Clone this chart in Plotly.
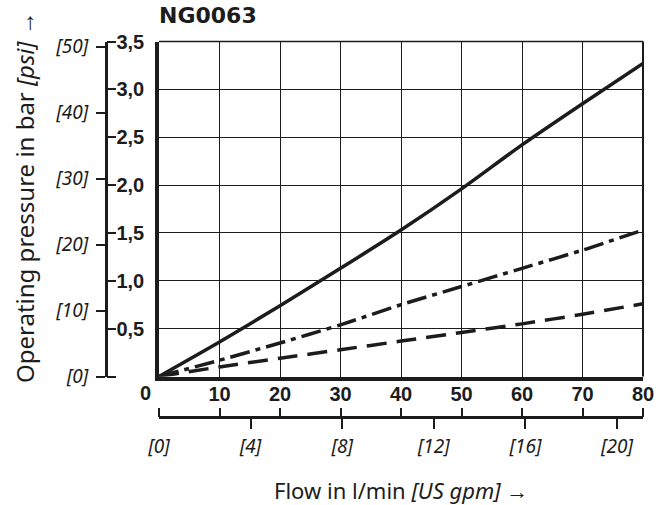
import plotly.graph_objects as go

# ---------------- data ----------------
flow_lpm = [0, 10, 20, 30, 40, 50, 60, 70, 80]
p_solid = [0, 0.36, 0.74, 1.13, 1.53, 1.96, 2.42, 2.85, 3.27]
p_dashdot = [0, 0.17, 0.35, 0.54, 0.75, 0.94, 1.13, 1.32, 1.53]
p_dashed = [0, 0.10, 0.19, 0.28, 0.37, 0.46, 0.55, 0.65, 0.76]

bar_ticks = [0.5, 1.0, 1.5, 2.0, 2.5, 3.0, 3.5]
bar_labels = ["0,5", "1,0", "1,5", "2,0", "2,5", "3,0", "3,5"]
bar_all_ticks = [0, 0.5, 1.0, 1.5, 2.0, 2.5, 3.0, 3.5]
psi_ticks = [0, 10, 20, 30, 40, 50]
psi_labels = ["[0]", "[10]", "[20]", "[30]", "[40]", "[50]"]
flow_ticks = [10, 20, 30, 40, 50, 60, 70, 80]
flow_labels = ["10", "20", "30", "40", "50", "60", "70", "80"]
flow_all_ticks = [0, 10, 20, 30, 40, 50, 60, 70, 80]
gpm_ticks = [4, 8, 12, 16, 20]
gpm_all = [0, 4, 8, 12, 16, 20]
gpm_labels = ["[0]", "[4]", "[8]", "[12]", "[16]", "[20]"]

BAR_MAX = 3.5
FLOW_MAX = 80
PSI_PER_BAR = 14.5038
LPM_PER_GPM = 3.78541

title_text = "NG0063"
x_title = "Flow in l/min <i>[US gpm]</i> →"
y_title = "Operating pressure in bar <i>[psi]</i> →"

# ---------------- layout helpers ----------------
W, H = 664, 505
def px(x):
    return x / W
def py(y):
    return 1 - y / H

X0, X1 = 159, 643
Y0, Y1 = 376.5, 41.5
INK = "#1c1c1c"
NARROW = "Liberation Sans, Arial, sans-serif"
SANS = "Noto Sans, Open Sans, sans-serif"

fig = go.Figure()
fig.add_trace(go.Scatter(x=flow_lpm, y=p_solid, mode="lines",
                         line=dict(color=INK, width=3.5, shape="spline", smoothing=0.6),
                         showlegend=False, hoverinfo="skip"))
fig.add_trace(go.Scatter(x=flow_lpm, y=p_dashdot, mode="lines",
                         line=dict(color=INK, width=3.5, dash="20px,6px,5px,6px",
                                   shape="spline", smoothing=0.6),
                         showlegend=False, hoverinfo="skip"))
fig.add_trace(go.Scatter(x=flow_lpm, y=p_dashed, mode="lines",
                         line=dict(color=INK, width=3.5, dash="20px,10px",
                                   shape="spline", smoothing=0.6),
                         showlegend=False, hoverinfo="skip"))

common = dict(automargin=False, zeroline=False)
fig.update_layout(
    template="none",
    width=W, height=H,
    margin=dict(l=0, r=0, t=0, b=0, autoexpand=False),
    paper_bgcolor="white", plot_bgcolor="white",
    showlegend=False,
    xaxis=dict(
        domain=[px(X0), px(X1)], range=[0, FLOW_MAX], anchor="y",
        tickvals=flow_ticks, ticktext=flow_labels, ticks="",
        tickfont=dict(family=NARROW, size=20, color=INK, weight="bold"),
        ticklabelstandoff=-4,
        showgrid=True, gridcolor=INK, gridwidth=1.3,
        showline=True, linecolor=INK, linewidth=4, **common,
    ),
    yaxis=dict(
        domain=[py(Y0), py(Y1)], range=[0, BAR_MAX], anchor="x",
        tickvals=bar_ticks, ticktext=bar_labels, ticks="",
        tickfont=dict(family=NARROW, size=20, color=INK, weight="bold"),
        ticklabelstandoff=7,
        showgrid=True, gridcolor=INK, gridwidth=1.3,
        showline=True, linecolor=INK, linewidth=3.5, **common,
    ),
    yaxis2=dict(
        overlaying="y", anchor="free", position=px(106), side="left",
        range=[0, BAR_MAX * PSI_PER_BAR],
        tickvals=psi_ticks, ticktext=psi_labels,
        ticks="outside", ticklen=9, tickwidth=2, tickcolor=INK,
        tickfont=dict(family=SANS, size=19, color=INK, style="italic"),
        ticklabelstandoff=4,
        showline=True, linecolor=INK, linewidth=3, showgrid=False, **common,
    ),
    yaxis3=dict(
        overlaying="y", anchor="free", position=px(106), side="right",
        range=[0, BAR_MAX], tickvals=bar_all_ticks,
        ticks="outside", ticklen=9, tickwidth=2, tickcolor=INK,
        showticklabels=False, showline=False, showgrid=False, **common,
    ),
    xaxis2=dict(
        overlaying="x", anchor="free", position=py(417), side="bottom",
        range=[0, FLOW_MAX / LPM_PER_GPM], tickvals=gpm_ticks,
        ticks="outside", ticklen=10, tickwidth=2, tickcolor=INK,
        showticklabels=False, showline=True, linecolor=INK, linewidth=3,
        showgrid=False, **common,
    ),
    xaxis3=dict(
        overlaying="x", anchor="free", position=py(417), side="bottom",
        range=[0, FLOW_MAX / LPM_PER_GPM], tickvals=gpm_all, ticktext=gpm_labels,
        ticks="", tickfont=dict(family=SANS, size=19, color=INK, style="italic"),
        ticklabelstandoff=16,
        showline=False, showgrid=False, **common,
    ),
    xaxis4=dict(
        overlaying="x", anchor="free", position=py(417), side="top",
        range=[0, FLOW_MAX], tickvals=flow_all_ticks,
        ticks="outside", ticklen=9, tickwidth=2, tickcolor=INK,
        showticklabels=False, showline=False, showgrid=False, **common,
    ),
)

for xa, ya in [("x2", "y"), ("x3", "y"), ("x4", "y"), ("x", "y2"), ("x", "y3")]:
    fig.add_trace(go.Scatter(x=[None], y=[None], xaxis=xa, yaxis=ya,
                             showlegend=False, hoverinfo="skip"))

fig.add_shape(type="line", xref="x domain", yref="y domain", x0=0, x1=1, y0=1, y1=1,
              line=dict(color=INK, width=1.5))
fig.add_shape(type="line", xref="x domain", yref="y domain", x0=1, x1=1, y0=0, y1=1,
              line=dict(color=INK, width=2))

fig.add_annotation(x=0, xref="x", y=py(393), yref="paper", text="0", showarrow=False,
                   xshift=-14, yanchor="middle",
                   font=dict(family=NARROW, size=20, color=INK, weight="bold"))

fig.add_annotation(x=px(157), y=py(15), xref="paper", yref="paper", text="<b>" + title_text + "</b>",
                   showarrow=False, xanchor="left", yanchor="middle",
                   font=dict(family="DejaVu Sans, sans-serif", size=22, color=INK))
fig.add_annotation(x=px(401), y=py(490), xref="paper", yref="paper", text=x_title,
                   showarrow=False, xanchor="center", yanchor="middle",
                   font=dict(family=SANS, size=22, color=INK))
fig.add_annotation(x=px(24), y=py(197), xref="paper", yref="paper", text=y_title,
                   showarrow=False, textangle=-90, xanchor="center", yanchor="middle",
                   font=dict(family=SANS, size=24, color=INK))

fig.write_html("out.html", config={"displayModeBar": False},
               post_script="document.body.style.margin='0';")
